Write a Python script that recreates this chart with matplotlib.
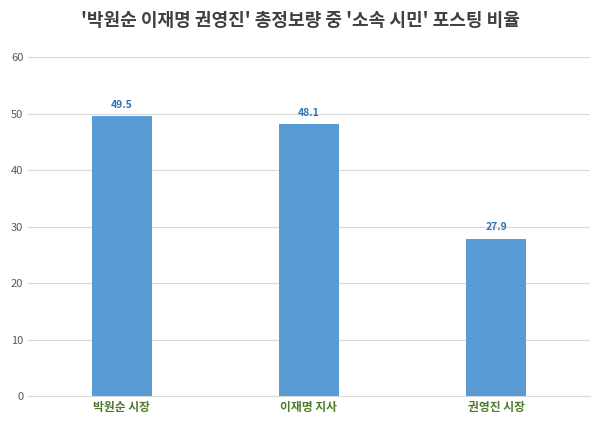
import matplotlib.pyplot as plt

plt.rcParams['font.family'] = ['Noto Sans CJK KR', 'DejaVu Sans']

categories = ['박원순 시장', '이재명 지사', '권영진 시장']
values = [49.5, 48.1, 27.9]
yticks = [0, 10, 20, 30, 40, 50, 60]

fig = plt.figure(figsize=(6, 4.26), dpi=100)
ax = fig.add_axes([0.047, 0.07, 0.936, 0.796])

x = range(len(categories))
ax.bar(x, values, width=0.32, color='#5B9BD5', zorder=3)
for i, v in zip(x, values):
    ax.text(i, v + 1.2, f'{v}', ha='center', va='bottom', fontsize=7.5,
            fontweight='bold', color='#2E75B6')

ax.set_xlim(-0.5, 2.5)
ax.set_ylim(0, 60)
ax.set_yticks(yticks)
ax.yaxis.grid(True, color='#D9D9D9', linewidth=0.8, zorder=0)
ax.tick_params(axis='y', length=0, labelsize=8, colors='#595959')
ax.tick_params(axis='x', length=0, labelsize=8.5)
ax.set_xticks(list(x))
ax.set_xticklabels(categories, color='#4F7A28', fontweight='bold')
for s in ['top', 'right', 'left']:
    ax.spines[s].set_visible(False)
ax.spines['bottom'].set_color('#D9D9D9')

fig.suptitle("'박원순 이재명 권영진' 총정보량 중 '소속 시민' 포스팅 비율",
             x=0.5, y=0.975, fontsize=13, fontweight='bold', color='#404040')

fig.savefig('out.png')
